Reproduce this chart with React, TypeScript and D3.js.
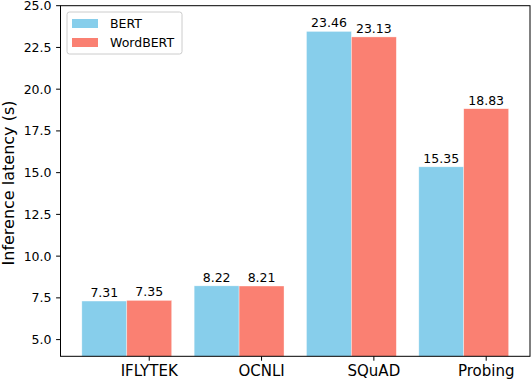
import React from "react";
import * as d3 from "d3";

const categories = ["IFLYTEK", "OCNLI", "SQuAD", "Probing"];
const bertValues = [7.31, 8.22, 23.46, 15.35];
const wordBertValues = [7.35, 8.21, 23.13, 18.83];
const seriesNames = ["BERT", "WordBERT"];
const yTicks = [5.0, 7.5, 10.0, 12.5, 15.0, 17.5, 20.0, 22.5, 25.0];

const W = 532;
const H = 380;
const left = 60.5;
const right = 530;
const top = 5.7;
const bottom = 356.3;
const FONT = "DejaVu Sans";
const colors = ["#87CEEB", "#FA8072"];

export default function App() {
  const barW = 0.4;
  const x = d3.scaleLinear().domain([-0.59, 3.59]).range([left, right]);
  const y = d3.scaleLinear().domain([4, 25]).range([bottom, top]);
  const series = [bertValues, wordBertValues];

  return (
    <svg
      width={W}
      height={H}
      style={{ position: "absolute", left: 0, top: 0, background: "white" }}
      fontFamily={FONT}
    >
      {/* bars */}
      {series.map((vals, s) =>
        vals.map((v, i) => {
          const x0 = x(i - barW + s * barW);
          const x1 = x(i + s * barW);
          return (
            <rect
              key={`b${s}-${i}`}
              x={x0}
              y={y(v)}
              width={x1 - x0}
              height={bottom - y(v)}
              fill={colors[s]}
              stroke="white"
              strokeOpacity={0.6}
              strokeWidth={0.6}
            />
          );
        })
      )}
      {/* bar labels */}
      {series.map((vals, s) =>
        vals.map((v, i) => (
          <text
            key={`l${s}-${i}`}
            x={x(i - barW / 2 + s * barW)}
            y={y(v) - 4}
            textAnchor="middle"
            fontSize={12.5}
            fill="#000"
          >
            {v.toFixed(2)}
          </text>
        ))
      )}
      {/* spines */}
      <rect
        x={left}
        y={top}
        width={right - left}
        height={bottom - top}
        fill="none"
        stroke="#000"
        strokeWidth={1}
      />
      {/* y ticks */}
      {yTicks.map((t) => (
        <g key={`yt${t}`}>
          <line x1={left - 4.4} x2={left} y1={y(t)} y2={y(t)} stroke="#000" strokeWidth={1} />
          <text
            x={left - 9}
            y={y(t) + 4.5}
            textAnchor="end"
            fontSize={12.5}
            fill="#000"
          >
            {t.toFixed(1)}
          </text>
        </g>
      ))}
      {/* x ticks */}
      {categories.map((c, i) => (
        <g key={`xt${c}`}>
          <line
            x1={x(i + barW / 2)}
            x2={x(i + barW / 2)}
            y1={bottom}
            y2={bottom + 4.4}
            stroke="#000"
            strokeWidth={1}
          />
          <text x={x(i + barW / 2)} y={376} textAnchor="middle" fontSize={15} fill="#000">
            {c}
          </text>
        </g>
      ))}
      {/* y label */}
      <text
        transform={`translate(13.5, 183) rotate(-90)`}
        textAnchor="middle"
        fontSize={16}
        fill="#000"
      >
        Inference latency (s)
      </text>
      {/* legend */}
      <rect
        x={67}
        y={12}
        width={115}
        height={42}
        rx={2.5}
        fill="white"
        fillOpacity={0.8}
        stroke="#cccccc"
        strokeWidth={1}
      />
      {seriesNames.map((n, s) => (
        <g key={`lg${n}`}>
          <rect x={72} y={19 + s * 19} width={26} height={9} fill={colors[s]} />
          <text x={110} y={28 + s * 19} fontSize={12.5} fill="#000">
            {n}
          </text>
        </g>
      ))}
    </svg>
  );
}
